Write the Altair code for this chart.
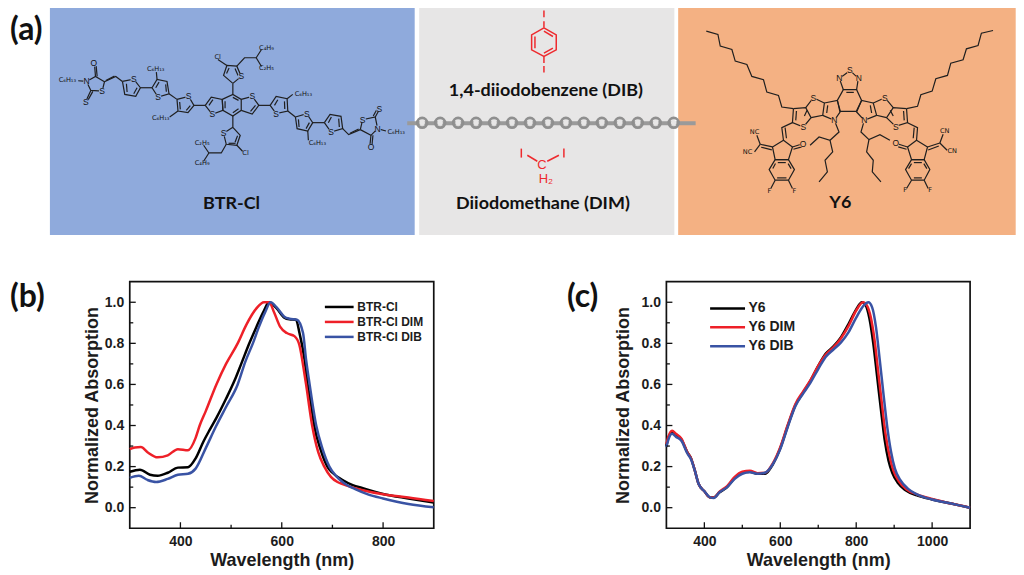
import altair as alt
import pandas as pd

# ---------- panel (b) spectra ----------
B_SERIES = ["BTR-Cl", "BTR-Cl DIM", "BTR-Cl DIB"]
b_black_x = [300,320,340,355,375,395,415,430,445,458,471,490,507,520,536,550,565,575,590,605,615,628,635,645,651,658,664,677,690,700,720,740,760,800,850,900]
b_black_y = [0.175,0.185,0.16,0.155,0.17,0.195,0.197,0.24,0.32,0.38,0.437,0.53,0.62,0.70,0.80,0.88,0.96,1.0,0.97,0.925,0.917,0.915,0.85,0.72,0.60,0.50,0.40,0.28,0.20,0.17,0.135,0.11,0.095,0.067,0.045,0.025]
b_red_x = [300,310,322,335,355,375,395,415,430,438,450,471,490,513,530,550,565,575,585,597,610,625,635,643,648,660,672,684,697,710,720,760,800,850,900]
b_red_y = [0.285,0.293,0.295,0.27,0.245,0.255,0.285,0.28,0.34,0.40,0.47,0.60,0.70,0.80,0.89,0.97,1.0,1.0,0.95,0.88,0.85,0.835,0.79,0.68,0.60,0.40,0.27,0.20,0.15,0.125,0.115,0.085,0.065,0.05,0.032]
b_blue_x = [300,318,335,352,375,395,415,430,450,471,490,513,528,543,555,567,578,590,605,615,630,642,648,655,668,680,694,707,720,745,770,800,850,900]
b_blue_y = [0.145,0.155,0.135,0.125,0.14,0.16,0.165,0.19,0.29,0.40,0.49,0.60,0.71,0.80,0.88,0.95,1.0,0.975,0.93,0.92,0.915,0.85,0.72,0.60,0.40,0.29,0.20,0.155,0.125,0.09,0.065,0.045,0.018,0.002]

# ---------- panel (c) spectra ----------
C_SERIES = ["Y6", "Y6 DIM", "Y6 DIB"]
c_black_x = [300,305,315,325,340,355,365,375,385,400,415,425,440,460,480,500,520,540,560,580,600,620,640,660,680,700,720,740,760,780,800,815,825,835,845,855,865,875,885,895,910,930,960,1000,1050,1100]
c_black_y = [0.30,0.34,0.365,0.355,0.33,0.27,0.24,0.18,0.115,0.08,0.05,0.05,0.075,0.10,0.145,0.17,0.175,0.165,0.165,0.21,0.29,0.40,0.50,0.56,0.62,0.69,0.75,0.785,0.83,0.895,0.965,1.0,0.985,0.92,0.80,0.64,0.48,0.33,0.23,0.17,0.12,0.085,0.06,0.04,0.02,0.0]
c_red_x = [300,305,315,325,340,355,365,375,385,400,415,425,440,460,480,500,520,540,560,580,600,620,640,660,680,700,720,740,760,780,800,818,828,838,848,858,868,878,888,898,912,932,960,1000,1050,1100]
c_red_y = [0.31,0.345,0.375,0.36,0.335,0.27,0.24,0.18,0.115,0.08,0.05,0.05,0.078,0.105,0.15,0.175,0.18,0.168,0.17,0.215,0.295,0.405,0.505,0.565,0.622,0.69,0.745,0.78,0.825,0.885,0.96,1.0,0.985,0.93,0.82,0.66,0.50,0.35,0.25,0.18,0.13,0.09,0.065,0.042,0.02,0.0]
c_blue_x = [300,305,315,325,340,355,365,375,385,400,415,425,440,460,480,500,520,540,560,580,600,620,640,660,680,700,720,740,760,780,800,820,832,842,852,862,872,882,892,902,916,936,960,1000,1050,1100]
c_blue_y = [0.295,0.33,0.36,0.345,0.325,0.265,0.235,0.18,0.115,0.08,0.05,0.047,0.075,0.10,0.14,0.165,0.172,0.165,0.17,0.21,0.285,0.395,0.495,0.555,0.61,0.675,0.735,0.77,0.805,0.855,0.925,0.985,1.0,0.975,0.88,0.72,0.55,0.39,0.27,0.19,0.135,0.093,0.065,0.04,0.02,0.0]

COLORS = ["#000000", "#ee2028", "#3953a4"]
WIDTHS = [2.5, 2.5, 3.5]
FONT = "Liberation Sans"
LOGO = "Lato"
INK = "#1c1c1c"
H = 562

PX = alt.Scale(domain=[8, 1018], range=[0, 1010])
PY = alt.Scale(domain=[8, 8 + H], range=[0, H])


def xpix(f):
    return alt.X(f, type="quantitative", scale=PX, axis=None)


def ypix(f):
    return alt.Y(f, type="quantitative", scale=PY, axis=None)


def z(ox, pts):
    return [(ox + a / 3, b / 3) for a, b in pts]


# ---------- schematic (a): molecule skeletons ----------
BTR_LEFT = [
    [(110,243),(137,228),(164,244),(157,272),(123,270),(110,243)],
    [(137,228),(134,192)], [(142,228),(139,197)],
    [(123,270),(108,303)], [(129,273),(114,300)],
    [(85,241),(110,243)],
    [(164,244),(198,228),(218,243)], [(168,240),(194,227)],
    [(218,243),(252,236),(272,262),(258,288),(225,282),(218,243)], [(230,250),(232,275)], [(262,262),(252,280)],
    [(272,262),(307,262)],
    [(307,262),(322,237),(352,243),(358,280),(325,290),(307,262)], [(318,262),(328,245)], [(348,252),(350,274)],
    [(322,237),(320,215)],
    [(358,280),(382,297)],
    [(382,297),(417,288),(433,315),(415,337),(385,332),(382,297)], [(390,305),(392,327)], [(422,316),(410,330)],
    [(385,332),(360,350)],
    [(433,315),(467,315)],
    [(467,315),(485,290),(518,297),(520,330),(488,342),(467,315)], [(478,315),(490,298)],
]
BTR_CORE = [
    [(222.7,99),(233.3,94),(241.7,99),(241.7,110),(233.3,115.7),(223.3,110),(222.7,99)],
    [(233.3,97),(239,100)], [(239,108.5),(233.3,112.5)], [(225.5,101),(225.5,108)],
    [(241.7,99),(252.7,96),(259.3,105),(252.7,113.7),(241.7,110)], [(256,105),(251,111)],
    [(233.3,94),(233.3,83)],
    [(233.3,83),(224,75),(227.3,65),(237.3,65.7),(241.7,76),(233.3,83)], [(227,73),(229.5,67.5)], [(235.5,68),(238.5,75)],
    [(218.3,59),(227.3,65)],
    [(237.3,65.7),(245,57.3),(256.7,57.3),(262,49)], [(256.7,57.3),(262,66)],
    [(233.3,115.7),(233.3,127)],
    [(233.3,127),(224,133),(226.7,144),(237.3,145),(240.7,135),(233.3,127)], [(229,143),(236,143)], [(238,135.5),(235.5,142)],
    [(237.3,145),(243,151)],
    [(226.7,144),(221.7,152.7),(209.3,152.7),(204,145)], [(209.3,152.7),(204,161)],
]
BTR_RIGHT = [
    [(88,315),(122,315)],
    [(122,315),(140,288),(173,295),(175,332),(140,340),(122,315)], [(135,315),(145,298)], [(165,303),(166,326)],
    [(173,295),(190,282)],
    [(175,332),(198,350)],
    [(198,350),(232,340),(250,367),(235,392),(203,385),(198,350)], [(207,357),(209,380)], [(240,367),(230,385)],
    [(235,392),(237,420)],
    [(250,367),(285,367)],
    [(285,367),(302,342),(335,348),(340,385),(305,395),(285,367)], [(297,367),(306,350)], [(328,355),(330,380)],
    [(340,385),(358,403),(393,388)], [(362,399),(388,386)],
    [(393,388),(400,358),(438,350),(445,385),(425,405),(393,388)],
    [(438,350),(450,328)], [(432,347),(444,325)],
    [(425,405),(422,435)], [(431,405),(428,435)],
    [(445,385),(470,392)],
]
Y6_LEFT = [
    [(83,92),(118,102),(125,137),(160,147),(170,182),(205,192),(220,228),(255,238),(265,275),(300,285),(310,320),(345,325)],
    [(345,325),(382,322),(398,352),(375,380),(342,367),(345,325)], [(354,332),(352,360)], [(386,330),(378,347)],
    [(382,322),(405,292),(438,308),(433,345),(398,352)],
    [(438,308),(477,300),(485,335),(468,360),(433,345)], [(448,315),(445,338)],
    [(342,367),(310,382),(315,420)], [(320,382),(324,414)],
    [(315,420),(342,440),(330,478),(290,478),(282,440),(315,420)],
    [(342,440),(368,432)], [(345,447),(370,440)],
    [(282,440),(245,432)], [(280,449),(248,441)],
    [(245,432),(235,405)], [(245,432),(228,455)],
    [(290,478),(330,478),(348,508),(330,540),(290,540),(272,508),(290,478)],
    [(298,487),(322,487)], [(296,533),(324,533)], [(283,505),(291,490)], [(338,505),(329,490)],
    [(330,540),(342,565)], [(290,540),(277,565)],
    [(468,360),(482,395),(455,420),(422,410),(395,435)],
    [(455,420),(463,455),(440,480),(447,515),(422,545)],
]
Y6_CENTER = [
    [(839,100),(845,89.3),(858.3,89.3),(863.3,100),(858,111),(842,111),(839,100)],
    [(848,92),(855.5,92)],
    [(845,89.3),(841,78)], [(858.3,89.3),(860,78)],
    [(841,78),(851.7,70),(860,78)],
]
Y6_RIGHT = [
    [(435,90),(400,98),(390,135),(355,145),(345,178),(308,188),(298,225),(263,235),(252,272),(218,283),(208,318),(175,325)],
    [(175,325),(135,322),(115,352),(142,378),(178,367),(175,325)], [(166,332),(168,360)], [(126,330),(135,347)],
    [(135,322),(110,292),(75,308),(85,345),(115,352)],
    [(75,308),(40,300),(25,335),(48,360),(85,345)], [(66,315),(70,338)],
    [(178,367),(208,382),(205,420)], [(198,382),(195,414)],
    [(205,420),(178,440),(190,478),(228,478),(238,440),(205,420)],
    [(178,440),(152,432)], [(175,447),(150,440)],
    [(238,440),(275,428)], [(240,449),(272,437)],
    [(275,428),(285,402)], [(275,428),(297,450)],
    [(190,478),(228,478),(245,508),(228,540),(190,540),(172,508),(190,478)],
    [(197,487),(221,487)], [(197,533),(221,533)], [(181,505),(190,490)], [(236,505),(227,490)],
    [(228,540),(240,565)], [(190,540),(175,565)],
    [(48,360),(38,395),(62,418),(95,403),(125,420)],
    [(62,418),(55,455),(75,480),(72,515),(98,545)],
]
DIB_RED = [
    [(435,82),(472,103),(472,148),(435,168),(398,148),(398,103),(435,82)],
    [(435,92),(462,108)], [(462,143),(435,158)], [(408,143),(408,108)],
    [(435,30),(435,50)], [(435,62),(435,82)], [(435,168),(435,188)], [(435,197),(435,216)],
    [(367,445),(367,472)], [(385,465),(415,483)], [(445,483),(480,465)], [(495,445),(495,472)],
]

black_paths = [z(50, p) for p in BTR_LEFT] + BTR_CORE + [z(230, p) for p in BTR_RIGHT] \
    + [z(680, p) for p in Y6_LEFT] + Y6_CENTER + [z(850, p) for p in Y6_RIGHT]
red_paths = [z(400, p) for p in DIB_RED]


def path_frame(paths):
    return pd.DataFrame(
        [{"id": i, "k": k, "x": x, "y": y} for i, p in enumerate(paths) for k, (x, y) in enumerate(p)]
    )


SUB = "C\u2086H\u2081\u2083"
btr_atoms = [(l, 50 + a / 3, b / 3) for l, a, b in [
    ("O",132,189),("N",110,243),("S",157,272),("S",108,305),("S",252,236),("S",325,290),("S",417,288),("S",488,342)]] + [
    ("S",241.7,76),("S",224,133),("S",252.7,96)] + [(l, 230 + a / 3, b / 3) for l, a, b in [
    ("S",140,340),("S",232,340),("S",305,395),("S",400,358),("N",445,385),("S",450,325),("O",425,440)]]
btr_groups = [(SUB,67.5,80),(SUB,156,68.5),(SUB,161,117.5),(SUB,304,94),(SUB,318,143),(SUB,397,131.5),
              ("C\u2082H\u2085",202.5,143),("C\u2084H\u2089",202.5,163),("C\u2084H\u2089",267,48),("C\u2082H\u2085",267,68),
              ("Cl",218,57),("Cl",246,153)]
y6_atoms = [("S",815,97.5),("S",805,126.5),("N",836,120),("N",841,77.5),("S",851.5,70),("N",860.5,77.5),
            ("S",886.5,97.5),("S",897.5,126.5),("N",866,120),("O",804.5,144),("O",897.5,143)]
y6_groups = [("NC",756,132),("NC",749,152),("CN",946.5,131),("CN",954,151),
             ("F",771,191),("F",796,191),("F",907,190),("F",932,190)]
dim_labels = [("C",543,164.5),("H\u2082",547,178.5)]


def labels(rows):
    return pd.DataFrame(rows, columns=["t", "x", "y"])


rects = pd.DataFrame({
    "x": [50, 420, 679.5], "x2": [415.5, 675.7, 1017.7],
    "y": [5, 5, 5], "y2": [235, 235, 235],
    "c": ["#8faadc", "#e7e6e6", "#f4b183"],
})
panel_bg = alt.Chart(rects).mark_rect().encode(
    x=xpix("x"), x2="x2:Q", y=ypix("y"), y2="y2:Q",
    fill=alt.Fill("c:N", scale=None),
)

black_lines = alt.Chart(path_frame(black_paths)).mark_line(color="#1f1f1f", strokeWidth=1.2).encode(
    x=xpix("x"), y=ypix("y"), detail="id:N", order="k:Q")
red_lines = alt.Chart(path_frame(red_paths)).mark_line(color="#ee2a2e", strokeWidth=1.5).encode(
    x=xpix("x"), y=ypix("y"), detail="id:N", order="k:Q")


def atom_layers(rows, bg):
    d = labels(rows)
    mask = alt.Chart(d).mark_point(filled=True, color=bg, size=42, opacity=1).encode(x=xpix("x"), y=ypix("y"))
    txt = alt.Chart(d).mark_text(font=FONT, fontSize=8.5, color="#111111", baseline="middle").encode(
        x=xpix("x"), y=ypix("y"), text="t:N")
    return [mask, txt]


def group_text(rows):
    return alt.Chart(labels(rows)).mark_text(font="DejaVu Sans", fontSize=6.6, color="#111111", baseline="middle").encode(
        x=xpix("x"), y=ypix("y"), text="t:N")


# chain between the two molecules
chain_x = [423, 441, 459, 477, 495, 513, 531, 549, 567, 585, 603, 621, 639, 657, 675]
chain_y = [122.5] * len(chain_x)
chain_df = pd.DataFrame({"x": chain_x, "y": chain_y})
chain_ends = pd.DataFrame({"x": [408, 697], "y": [123, 123]})
chain_bar = alt.Chart(chain_ends).mark_line(color="#9a9a9a", strokeWidth=4).encode(x=xpix("x"), y=ypix("y"))
chain_rings = alt.Chart(chain_df).mark_point(shape="circle", filled=False, color="#8f8f8f", strokeWidth=2.8, size=95, opacity=1).encode(
    x=xpix("x"), y=ypix("y"))
chain_inner = alt.Chart(chain_df).mark_point(shape="circle", filled=True, color="#e7e6e6", size=30, opacity=1).encode(
    x=xpix("x"), y=ypix("y"))

red_text = alt.Chart(labels(dim_labels)).mark_text(font=FONT, fontSize=13, color="#ee2a2e", baseline="middle").encode(
    x=xpix("x"), y=ypix("y"), text="t:N")

caption_rows = [("BTR-Cl", 232, 204), ("1,4-diiodobenzene (DIB)", 547, 91), ("Diiodomethane (DIM)", 544, 204), ("Y6", 842, 203)]
captions = alt.Chart(labels(caption_rows)).mark_text(font=LOGO, fontSize=18, fontWeight="bold", color="#111111", baseline="middle").encode(
    x=xpix("x"), y=ypix("y"), text="t:N")

tag_rows = [("(a)", 10, 30), ("(b)", 10, 297), ("(c)", 568, 297)]
tags = alt.Chart(labels(tag_rows)).mark_text(font=LOGO, fontSize=32, fontWeight="bold", color="#111111", baseline="middle", align="left").encode(
    x=xpix("x"), y=ypix("y"), text="t:N")

frame_df = pd.DataFrame({"x": [130, 667.7], "x2": [434.6, 972], "y": [281.7, 281.7], "y2": [528.7, 528.7]})
frames = alt.Chart(frame_df).mark_rect(fillOpacity=0, stroke="#111111", strokeWidth=1.7).encode(
    x=xpix("x"), x2="x2:Q", y=ypix("y"), y2="y2:Q")


# ---------- spectra panels ----------
def spectra(series, xs, ys):
    return pd.DataFrame(
        [{"s": s, "w": a, "v": b} for s, xa, ya in zip(series, xs, ys) for a, b in zip(xa, ya)]
    )


def panel(series, xs, ys, xdom, left, right, xvals, legx, legy, legsym, legpath, legfont, legoffset, rowpad, y_title_pad, x_title_pad):
    XS = alt.Scale(domain=xdom, range=[left - 8, right - 8])
    YS = alt.Scale(domain=[-0.1, 1.1], range=[528.7 - 8, 281.7 - 8])
    lines = alt.Chart(spectra(series, xs, ys)).mark_line(interpolate="monotone").encode(
        x=alt.X("w:Q", scale=XS, title="Wavelength (nm)", axis=alt.Axis(
            orient="bottom", offset=528.7 - 8 - H, values=xvals, format="d", grid=False, ticks=False, domain=False,
            labelFont=FONT, labelFontWeight="bold", labelFontSize=14, labelColor=INK, labelPadding=6,
            labelFlush=False, labelOverlap=False,
            titleFont=FONT, titleFontWeight="bold", titleFontSize=18, titleColor=INK, titlePadding=x_title_pad)),
        y=alt.Y("v:Q", scale=YS, title="Normalized Absorption", axis=alt.Axis(
            orient="left", offset=-(left - 8), values=[0, 0.2, 0.4, 0.6, 0.8, 1.0], format=".1f", grid=False, ticks=False, domain=False,
            labelFont=FONT, labelFontWeight="bold", labelFontSize=14, labelColor=INK, labelPadding=6,
            labelFlush=False, labelOverlap=False,
            titleFont=FONT, titleFontWeight="bold", titleFontSize=18, titleColor=INK, titlePadding=y_title_pad)),
        color=alt.Color("s:N", scale=alt.Scale(domain=series, range=COLORS), legend=alt.Legend(
            orient="none", legendX=legx - 8, legendY=legy - 8, title=None, symbolType=legpath,
            symbolSize=legsym, symbolStrokeWidth=3, labelFont=FONT, labelFontWeight="bold",
            labelFontSize=legfont, labelColor=INK, rowPadding=rowpad, labelOffset=legoffset)),
        strokeWidth=alt.StrokeWidth("s:N", scale=alt.Scale(domain=series, range=WIDTHS), legend=None),
        detail="s:N",
    )

    step = xvals[1] - xvals[0]
    major_x = pd.DataFrame({"x": xvals})
    minor_x = pd.DataFrame({"x": [v + step / 2 for v in xvals[:-1]] + ([xvals[-1] + step / 2] if xvals[-1] + step / 2 < xdom[1] else [])})
    major_y = pd.DataFrame({"y": [0, 0.2, 0.4, 0.6, 0.8, 1.0]})
    minor_y = pd.DataFrame({"y": [0.1, 0.3, 0.5, 0.7, 0.9]})
    out = [lines]
    for d, n in ((major_x, 6), (minor_x, 3.5)):
        out.append(alt.Chart(d).mark_rule(color="#111111", strokeWidth=1.3).encode(
            x=alt.X("x:Q", scale=XS, axis=None), y=alt.value(528.7 - 8), y2=alt.value(528.7 - 8 - n)))
    for d, n in ((major_y, 6), (minor_y, 3.5)):
        out.append(alt.Chart(d).mark_rule(color="#111111", strokeWidth=1.3).encode(
            y=alt.Y("y:Q", scale=YS, axis=None), x=alt.value(left - 8), x2=alt.value(left - 8 + n)))
    return out


layers_b = panel(B_SERIES, [b_black_x, b_red_x, b_blue_x], [b_black_y, b_red_y, b_blue_y], [300, 900], 130, 434.6,
                 [400, 600, 800], 324, 299.5, 144, "M-1,0H3.8", 12, 19, 1, 3, 3)
layers_c = panel(C_SERIES, [c_black_x, c_red_x, c_blue_x], [c_black_y, c_red_y, c_blue_y], [300, 1100], 667.7, 972,
                 [400, 600, 800, 1000], 710, 300, 196, "M-1,0H4", 14, 23, 2.9, 9, 3)

layers = [panel_bg, black_lines] + atom_layers(btr_atoms, "#8faadc") + atom_layers(y6_atoms, "#f4b183") + [
    group_text(btr_groups), group_text(y6_groups), red_lines, red_text,
    chain_bar, chain_rings, chain_inner, captions, tags, frames] + layers_b + layers_c

chart = alt.layer(*layers).resolve_scale(
    x="independent", y="independent", color="independent", strokeWidth="independent"
).properties(
    width=1010, height=H, padding=0,
    autosize=alt.AutoSizeParams(type="none", contains="padding"),
).configure_view(stroke=None)

chart.save("out.html", embed_options={"renderer": "svg", "actions": False})
